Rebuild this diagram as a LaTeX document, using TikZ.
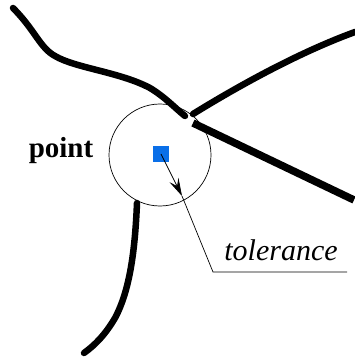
\documentclass[tikz,border=0pt]{standalone}
\usepackage{fontspec}
\setmainfont{Liberation Serif}
\usetikzlibrary{arrows.meta}
\definecolor{ptblue}{HTML}{0A6FE8}
\begin{document}
\begin{tikzpicture}[x=1pt,y=-1pt,
  edgeline/.style={line width=6.5pt,line cap=round},
  leader/.style={line width=0.7pt},
  txt/.style={inner sep=0pt,font=\fontsize{29}{32}\selectfont}]
\useasboundingbox (0,0) rectangle (355,358);
% curves
\draw[edgeline] (13,8) .. controls (35,30) and (40,48) .. (55,56)
  .. controls (75,68) and (120,72) .. (150,88)
  .. controls (165,97) and (175,108) .. (185,116);
\draw[edgeline] (193,114) .. controls (240,85) and (300,52) .. (355,32);
\draw[line width=7.5pt] (193,123) -- (354,200);
\draw[edgeline] (137,203) .. controls (135,250) and (130,290) .. (115,318)
  .. controls (105,335) and (95,345) .. (84,353);
% circle
\node[draw,circle,line width=0.7pt,minimum size=102pt,inner sep=0pt] (tol) at (160,155) {};
% point
\node[fill=ptblue,minimum size=16pt,inner sep=0pt] (pt) at (161,154) {};
\node[txt,font=\fontsize{29}{32}\selectfont\bfseries] (plabel) at (61,151) {point};
% leader
\coordinate (tip) at (182,196);
\coordinate (knee) at (213,272);
\coordinate (end) at (347,272);
\draw[leader,-{Stealth[length=18pt,width=10pt,inset=7pt]}] (pt.center) -- (tip);
\draw[leader] (tip) -- (knee) -- (end);
\node[txt,font=\fontsize{30}{32}\selectfont\itshape,anchor=base] (tlabel) at (281,260) {tolerance};
\end{tikzpicture}
\end{document}
